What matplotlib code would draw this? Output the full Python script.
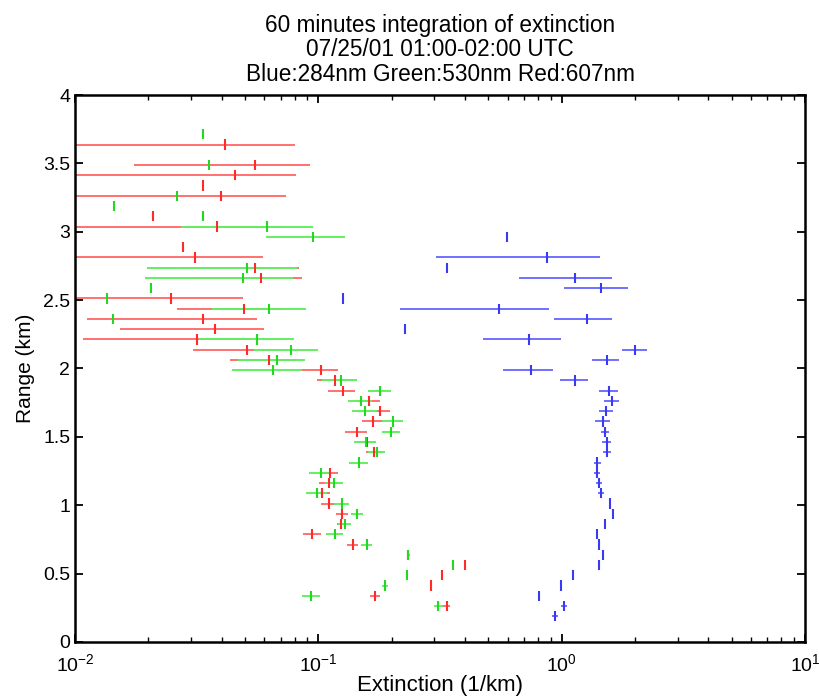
import matplotlib
matplotlib.use("Agg")
import matplotlib.pyplot as plt
from matplotlib.ticker import LogLocator, FuncFormatter, MultipleLocator
import numpy as np

plt.rcParams['font.family'] = ['Liberation Sans', 'DejaVu Sans']

# Extinction profiles (range in km, extinction in 1/km, horizontal error in 1/km)
red_range = [3.6375, 3.4875, 3.4125, 3.3375, 3.2625, 3.1125, 3.0375, 2.8875, 2.8125,
             2.7375, 2.6625, 2.5125, 2.4375, 2.3625, 2.2875, 2.2125, 2.1375, 2.0625,
             1.9875, 1.9125, 1.8375, 1.7625, 1.6875, 1.6125, 1.5375, 1.4625, 1.3875,
             1.2375, 1.1625, 1.0875, 1.0125, 0.9375, 0.8625, 0.7875, 0.7125, 0.6375,
             0.5625, 0.4875, 0.4125, 0.3375, 0.2625]
red_ext = [0.0412, 0.0550, 0.0453, 0.0335, 0.0398, 0.0209, 0.0382, 0.0277, 0.0311,
           0.0550, 0.0580, 0.0247, 0.0496, 0.0335, 0.0376, 0.0316, 0.0508, 0.0626,
           0.1023, 0.1173, 0.1260, 0.1616, 0.1795, 0.1674, 0.1440, 0.1580, 0.1700,
           0.1120, 0.1110, 0.1033, 0.1107, 0.1248, 0.1243, 0.0945, 0.1384, 0.2344,
           0.4010, 0.3233, 0.2905, 0.1710, 0.3370]
red_err = [0.039, 0.0375, 0.036, 0.0, 0.034, 0.0, 0.035, 0.0, 0.028,
           0.028, 0.0275, 0.0245, 0.0234, 0.0223, 0.0223, 0.0208, 0.0202, 0.0193,
           0.0184, 0.019, 0.016, 0.018, 0.0177, 0.0165, 0.015, 0.013, 0.013,
           0.0087, 0.010, 0.008, 0.008, 0.007, 0.005, 0.0083, 0.007, 0.003,
           0.0, 0.0, 0.0, 0.008, 0.012]

green_range = [3.7125, 3.4875, 3.2625, 3.1875, 3.1125, 3.0375, 2.9625, 2.7375, 2.6625,
               2.5875, 2.5125, 2.4375, 2.3625, 2.2125, 2.1375, 2.0625, 1.9875, 1.9125,
               1.8375, 1.7625, 1.6875, 1.6125, 1.5375, 1.4625, 1.3875, 1.3125, 1.2375,
               1.1625, 1.0875, 1.0125, 0.9375, 0.8625, 0.7875, 0.7125, 0.6375, 0.5625,
               0.4875, 0.4125, 0.3375, 0.2625]
green_ext = [0.0335, 0.0355, 0.0262, 0.0145, 0.0335, 0.0613, 0.0948, 0.0508, 0.0489,
             0.0205, 0.0135, 0.0626, 0.0143, 0.0558, 0.0771, 0.0674, 0.0650, 0.1240,
             0.1795, 0.1494, 0.1556, 0.2034, 0.1990, 0.1566, 0.1738, 0.1470, 0.1023,
             0.1160, 0.0990, 0.1248, 0.1445, 0.1287, 0.1173, 0.1580, 0.2344, 0.3567,
             0.2309, 0.1880, 0.0933, 0.3110]
green_err = [0.0, 0.0, 0.0, 0.0, 0.0, 0.034, 0.034, 0.031, 0.0295,
             0.0, 0.0, 0.026, 0.0, 0.0236, 0.0225, 0.0208, 0.0207, 0.020,
             0.020, 0.0166, 0.018, 0.020, 0.017, 0.016, 0.014, 0.013, 0.0105,
             0.010, 0.010, 0.009, 0.008, 0.008, 0.0095, 0.008, 0.003, 0.0,
             0.0, 0.006, 0.0078, 0.013]

blue_range = [2.9625, 2.8125, 2.7375, 2.6625, 2.5875, 2.5125, 2.4375, 2.3625, 2.2875,
              2.2125, 2.1375, 2.0625, 1.9875, 1.9125, 1.8375, 1.7625, 1.6875, 1.6125,
              1.5375, 1.4625, 1.3875, 1.3125, 1.2375, 1.1625, 1.0875, 1.0125, 0.9375,
              0.8625, 0.7875, 0.7125, 0.6375, 0.5625, 0.4875, 0.4125, 0.3375, 0.2625,
              0.1875]
blue_ext = [0.5946, 0.8685, 0.337, 1.135, 1.452, 0.126, 0.553, 1.268, 0.227,
            0.734, 2.003, 1.532, 0.748, 1.135, 1.566, 1.607, 1.522, 1.476,
            1.508, 1.532, 1.541, 1.402, 1.402, 1.429, 1.452, 1.581, 1.622,
            1.508, 1.393, 1.429, 1.484, 1.429, 1.110, 0.994, 0.807, 1.026,
            0.9395]
blue_err = [0.0, 0.565, 0.0, 0.47, 0.43, 0.0, 0.336, 0.335, 0.0,
            0.258, 0.23, 0.194, 0.176, 0.153, 0.145, 0.12, 0.10, 0.10,
            0.06, 0.07, 0.06, 0.05, 0.04, 0.04, 0.04, 0.0, 0.0,
            0.0, 0.0, 0.0, 0.0, 0.0, 0.0, 0.0, 0.0, 0.03,
            0.03]

range_halfbin = 0.0375

series = [
    (red_ext, red_range, red_err, '#ff7070', '#ff2a2a'),
    (green_ext, green_range, green_err, '#62f062', '#22d822'),
    (blue_ext, blue_range, blue_err, '#7070ff', '#3a3af2'),
]

fig = plt.figure(figsize=(8.19, 6.96), dpi=100)
ax = fig.add_axes([0.0916, 0.0776, 0.8913, 0.7859])
ax.set_xscale('log')

# horizontal error bars first, then the range-bin ticks on top
for ext, rng, err, lc, tc in series:
    ax.errorbar(ext, rng, xerr=err, fmt='none', ecolor=lc, elinewidth=1.4, capsize=0)
for ext, rng, err, lc, tc in series:
    ax.errorbar(ext, rng, yerr=range_halfbin, fmt='none', ecolor=tc, elinewidth=1.5, capsize=0)

ax.set_xlim(0.01, 10)
ax.set_ylim(0, 4)

ax.xaxis.set_major_locator(LogLocator(base=10, numticks=10))
ax.xaxis.set_minor_locator(LogLocator(base=10, subs=np.arange(2, 10), numticks=20))
ax.yaxis.set_major_locator(MultipleLocator(0.5))
ax.yaxis.set_major_formatter(FuncFormatter(lambda v, p: f"{v:g}"))

ax.tick_params(which='both', direction='in', top=True, right=True, labelsize=14)
ax.tick_params(which='major', length=6, width=1.3)
ax.tick_params(which='minor', length=3.5, width=1.0)
ax.tick_params(axis='x', pad=8)
for s in ax.spines.values():
    s.set_linewidth(1.8)

ax.set_xlabel('Extinction (1/km)', fontsize=16, labelpad=0)
ax.set_ylabel('Range (km)', fontsize=15, labelpad=6)
ax.set_title('60 minutes integration of extinction\n07/25/01 01:00-02:00 UTC\n'
             'Blue:284nm Green:530nm Red:607nm', fontsize=16.3, linespacing=1.1, pad=10)

fig.savefig('out.png', dpi=100, facecolor='white')
